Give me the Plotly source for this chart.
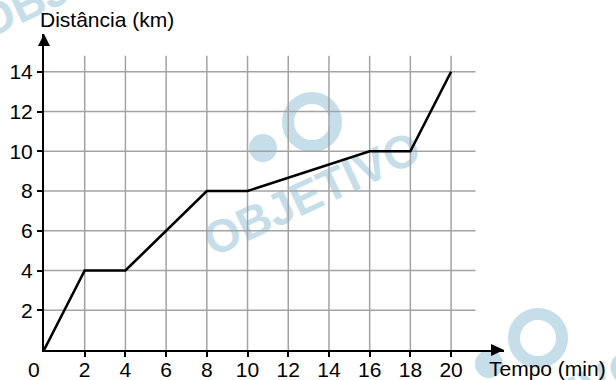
import plotly.graph_objects as go

# Distance travelled over time
tempo_min = [0, 2, 4, 8, 10, 16, 18, 20]
distancia_km = [0, 4, 4, 8, 8, 10, 10, 14]

x_ticks = [2, 4, 6, 8, 10, 12, 14, 16, 18, 20]
y_ticks = [2, 4, 6, 8, 10, 12, 14]

FONT = "Liberation Sans, Arial, sans-serif"
GRID = "#a3a3a3"
WM = "#c6dee9"

W, H = 616, 380
ML, MR, MT, MB = 44, 112, 34, 30
PW, PH = W - ML - MR, H - MT - MB


def px(x):
    return (x - ML) / PW


def py(y):
    return (H - MB - y) / PH


shapes = []

# faint "OBJETIVO" watermarks behind the chart
for cx, cy in [(84, -28), (310, 190), (536, 406)]:
    rx, ry = cx + 2, cy - 68
    shapes.append(dict(type="circle", xref="paper", yref="paper", layer="below",
                       x0=px(rx - 24), x1=px(rx + 24), y0=py(ry + 24), y1=py(ry - 24),
                       line=dict(color=WM, width=12)))
    sx, sy = cx - 47, cy - 42
    shapes.append(dict(type="circle", xref="paper", yref="paper", layer="below",
                       x0=px(sx - 14), x1=px(sx + 14), y0=py(sy + 14), y1=py(sy - 14),
                       line=dict(color=WM, width=0), fillcolor=WM))
    shapes.append(dict(type="rect", xref="paper", yref="paper", layer="below",
                       x0=px(cx - 130), x1=px(cx + 130), y0=py(cy + 28), y1=py(cy - 28),
                       line=dict(width=0), fillcolor="rgba(0,0,0,0)",
                       label=dict(text="<b>OBJETIVO</b>", textangle=-25,
                                  textposition="middle center",
                                  font=dict(family=FONT, size=46, color=WM))))

# grid
for xv in x_ticks:
    shapes.append(dict(type="line", xref="x", yref="y", layer="below",
                       x0=xv, x1=xv, y0=0, y1=14.8, line=dict(color=GRID, width=1.5)))
for yv in y_ticks:
    shapes.append(dict(type="line", xref="x", yref="y", layer="below",
                       x0=0, x1=21.2, y0=yv, y1=yv, line=dict(color=GRID, width=1.5)))

# arrow heads on both axes (paper-anchored so they are not clipped)
shapes.append(dict(type="path", xref="paper", yref="paper", xsizemode="pixel", ysizemode="pixel",
                   xanchor=1, yanchor=0, path="M 0 0 L -13 6 L -13 -6 Z",
                   fillcolor="black", line=dict(color="black", width=0)))
shapes.append(dict(type="path", xref="paper", yref="paper", xsizemode="pixel", ysizemode="pixel",
                   xanchor=0, yanchor=1, path="M 0 0 L -6 -12 L 6 -12 Z",
                   fillcolor="black", line=dict(color="black", width=0)))

fig = go.Figure()
fig.add_trace(go.Scatter(x=tempo_min, y=distancia_km, mode="lines",
                         line=dict(color="black", width=2.6), cliponaxis=False,
                         hoverinfo="skip", showlegend=False))

fig.update_layout(
    width=W, height=H,
    margin=dict(l=ML, r=MR, t=MT, b=MB, autoexpand=False),
    paper_bgcolor="white", plot_bgcolor="white",
    font=dict(family=FONT, size=21, color="black"),
    shapes=shapes,
    xaxis=dict(range=[0, 22.6], tickvals=x_ticks, ticktext=[str(v) for v in x_ticks],
               showgrid=False, zeroline=False, showline=True, linecolor="black",
               linewidth=2, ticks="outside", ticklen=5, tickwidth=1.5, tickcolor="black",
               ticklabelstandoff=-5, automargin=False, fixedrange=True),
    yaxis=dict(range=[0, 15.9], tickvals=y_ticks, ticktext=[str(v) for v in y_ticks],
               showgrid=False, zeroline=False, showline=True, linecolor="black",
               linewidth=2, ticks="outside", ticklen=5, tickwidth=1.5, tickcolor="black",
               automargin=False, fixedrange=True),
    annotations=[
        dict(text="Distância (km)", xref="paper", yref="paper", x=px(38), y=py(20),
             xanchor="left", yanchor="middle", showarrow=False,
             font=dict(family=FONT, size=21)),
        dict(text="Tempo (min)", xref="paper", yref="paper", x=px(487), y=py(368),
             xanchor="left", yanchor="middle", showarrow=False,
             font=dict(family=FONT, size=21)),
        dict(text="0", xref="paper", yref="paper", x=px(34), y=py(369),
             xanchor="center", yanchor="middle", showarrow=False,
             font=dict(family=FONT, size=21)),
    ],
)

fig.write_html("out.html")
